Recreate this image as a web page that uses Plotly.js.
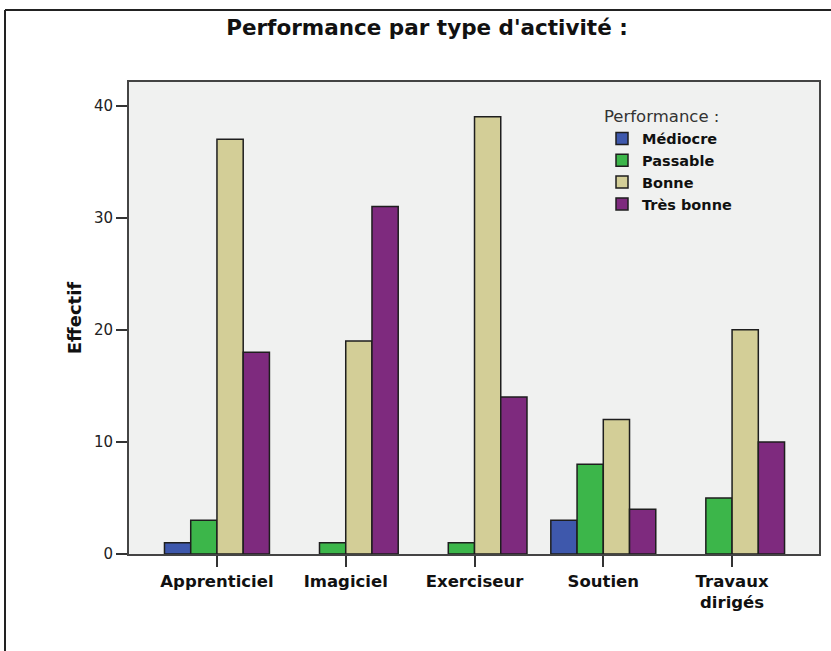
<!DOCTYPE html>
<html>
<head>
<meta charset="utf-8">
<script src="https://cdn.plot.ly/plotly-3.0.1.min.js"></script>
<style>html,body{margin:0;padding:0;background:#fff;}#chart{width:831px;height:651px;}</style>
</head>
<body>
<div id="chart"></div>
<script>
const categories = ["Apprenticiel", "Imagiciel", "Exerciseur", "Soutien", "Travaux<br>dirigés"];
const seriesNames = ["Médiocre", "Passable", "Bonne", "Très bonne"];
const mediocre = [1, 0, 0, 3, 0];
const passable = [3, 1, 1, 8, 5];
const bonne = [37, 19, 39, 12, 20];
const tresBonne = [18, 31, 14, 4, 10];
const yTicks = [0, 10, 20, 30, 40];

const colors = ["#3e58ac", "#3cb64a", "#d3ce97", "#7e2a7e"];
const values = [mediocre, passable, bonne, tresBonne];
const FONT = "DejaVu Sans, Liberation Sans, Arial, sans-serif";

const traces = values.map((v, i) => ({
  type: "bar",
  name: seriesNames[i],
  x: categories,
  y: v,
  marker: {color: colors[i], line: {color: "#1e1e1e", width: v.map(d => d > 0 ? 1.5 : 0)}},
  hoverinfo: "skip"
}));

const L = 129, R = 819, T = 82, B = 554, W = 831, H = 651;
const px = x => (x - L) / (R - L);
const py = y => (B - y) / (B - T);

const layout = {
  width: W, height: H,
  margin: {l: L, r: W - R, t: T, b: H - B, pad: 0},
  paper_bgcolor: "#ffffff",
  plot_bgcolor: "#f0f1f0",
  font: {family: FONT, color: "#1a1a1a"},
  barmode: "group",
  bargap: 0.185,
  bargroupgap: 0,
  showlegend: true,
  title: {
    text: "<b>Performance par type d'activité :</b>",
    font: {size: 21.5, color: "#111", family: FONT},
    xref: "container", x: 427 / W, xanchor: "center",
    yref: "container", y: 1 - 27 / H, yanchor: "middle"
  },
  xaxis: {
    type: "category",
    range: [-0.683, 4.675],
    showline: true, mirror: true, linecolor: "#444", linewidth: 2,
    ticks: "outside", ticklen: 11, tickwidth: 2, tickcolor: "#333",
    tickfont: {size: 16.5, color: "#111", family: FONT, weight: "bold"},
    showgrid: false, zeroline: false, fixedrange: true
  },
  yaxis: {
    range: [0, 42.1],
    tickvals: yTicks,
    ticktext: yTicks.map(String),
    showline: true, mirror: true, linecolor: "#444", linewidth: 2,
    ticks: "outside", ticklen: 11, tickwidth: 2, tickcolor: "#333",
    tickfont: {size: 15, color: "#222", family: FONT},
    showgrid: false, zeroline: false, fixedrange: true,
    title: {text: "<b>Effectif</b>", font: {size: 18, color: "#111", family: FONT}, standoff: 8}
  },
  legend: {
    x: px(602), y: py(101), xanchor: "left", yanchor: "top",
    bgcolor: "rgba(0,0,0,0)",
    title: {text: "Performance :", font: {size: 16.5, color: "#333", family: FONT, weight: "normal"}},
    font: {size: 14.5, color: "#111", family: FONT, weight: "bold"},
    itemwidth: 30,
    tracegroupgap: 0
  },
  shapes: [
    {type: "line", xref: "paper", yref: "paper", x0: px(5), x1: px(831), y0: py(10), y1: py(10), line: {color: "#222", width: 2}},
    {type: "line", xref: "paper", yref: "paper", x0: px(5), x1: px(5), y0: py(10), y1: py(651), line: {color: "#222", width: 2}}
  ]
};

Plotly.newPlot("chart", traces, layout, {staticPlot: true, displayModeBar: false});
</script>
</body>
</html>
